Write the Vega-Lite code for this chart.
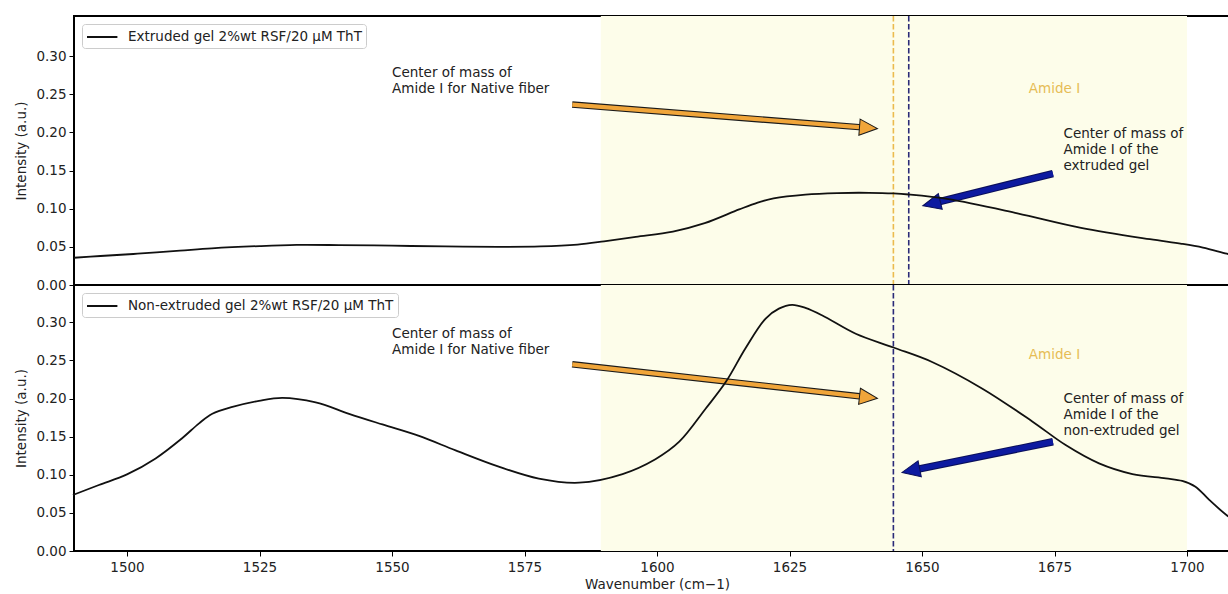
{
  "$schema": "https://vega.github.io/schema/vega-lite/v6.json",
  "padding": {"left": 13, "top": 14, "right": 0, "bottom": 0},
  "bounds": "flush",
  "spacing": 0,
  "datasets": {
    "amide": [{"w": 1589.4, "w2": 1700}],
    "centers": [
      {"panel": "top", "kind": "native", "w": 1644.6},
      {"panel": "top", "kind": "gel", "w": 1647.5},
      {"panel": "bottom", "kind": "gel", "w": 1644.6}
    ],
    "arrows": [
      {"panel": "top", "kind": "native", "w": 1584.0, "v": 0.2364, "w2": 1639.9, "v2": 0.2059},
      {"panel": "bottom", "kind": "native", "w": 1584.0, "v": 0.2449, "w2": 1639.9, "v2": 0.2016},
      {"panel": "top", "kind": "gel", "w": 1674.7, "v": 0.146, "w2": 1651.8, "v2": 0.1067},
      {"panel": "bottom", "kind": "gel", "w": 1674.7, "v": 0.1434, "w2": 1647.9, "v2": 0.1055}
    ],
    "notes": [
      {"panel": "top", "kind": "native", "w": 1550, "v": 0.2726, "text": "Center of mass of\nAmide I for Native fiber"},
      {"panel": "bottom", "kind": "native", "w": 1550, "v": 0.2795, "text": "Center of mass of\nAmide I for Native fiber"},
      {"panel": "top", "kind": "gel", "w": 1676.7, "v": 0.1928, "text": "Center of mass of\nAmide I of the\nextruded gel"},
      {"panel": "bottom", "kind": "gel", "w": 1676.7, "v": 0.1937, "text": "Center of mass of\nAmide I of the\nnon-extruded gel"},
      {"panel": "top", "kind": "region", "w": 1675, "v": 0.257, "text": "Amide I"},
      {"panel": "bottom", "kind": "region", "w": 1675, "v": 0.257, "text": "Amide I"}
    ],
    "spectra": [
      {"panel": "top", "w": 1490, "v": 0.0357},
      {"panel": "top", "w": 1495, "v": 0.038},
      {"panel": "top", "w": 1502, "v": 0.041},
      {"panel": "top", "w": 1510, "v": 0.045},
      {"panel": "top", "w": 1516, "v": 0.048},
      {"panel": "top", "w": 1525, "v": 0.051},
      {"panel": "top", "w": 1532, "v": 0.0525},
      {"panel": "top", "w": 1540, "v": 0.0523},
      {"panel": "top", "w": 1550, "v": 0.0515},
      {"panel": "top", "w": 1560, "v": 0.0505},
      {"panel": "top", "w": 1570, "v": 0.050},
      {"panel": "top", "w": 1578, "v": 0.0505},
      {"panel": "top", "w": 1585, "v": 0.053},
      {"panel": "top", "w": 1590, "v": 0.0572},
      {"panel": "top", "w": 1596, "v": 0.063},
      {"panel": "top", "w": 1603, "v": 0.070},
      {"panel": "top", "w": 1609, "v": 0.081},
      {"panel": "top", "w": 1615.5, "v": 0.099},
      {"panel": "top", "w": 1619, "v": 0.108},
      {"panel": "top", "w": 1622, "v": 0.1135},
      {"panel": "top", "w": 1628, "v": 0.1185},
      {"panel": "top", "w": 1634, "v": 0.1205},
      {"panel": "top", "w": 1640, "v": 0.1208},
      {"panel": "top", "w": 1644.6, "v": 0.120},
      {"panel": "top", "w": 1647.5, "v": 0.1186},
      {"panel": "top", "w": 1655, "v": 0.1125},
      {"panel": "top", "w": 1668, "v": 0.094},
      {"panel": "top", "w": 1680, "v": 0.075},
      {"panel": "top", "w": 1693, "v": 0.060},
      {"panel": "top", "w": 1699, "v": 0.054},
      {"panel": "top", "w": 1703, "v": 0.049},
      {"panel": "top", "w": 1707.5, "v": 0.041},
      {"panel": "top", "w": 1710, "v": 0.037},
      {"panel": "bottom", "w": 1489.8, "v": 0.0735},
      {"panel": "bottom", "w": 1494.7, "v": 0.0866},
      {"panel": "bottom", "w": 1500, "v": 0.1005},
      {"panel": "bottom", "w": 1505.4, "v": 0.1215},
      {"panel": "bottom", "w": 1510.4, "v": 0.148},
      {"panel": "bottom", "w": 1513.6, "v": 0.1675},
      {"panel": "bottom", "w": 1516.1, "v": 0.180},
      {"panel": "bottom", "w": 1519.9, "v": 0.189},
      {"panel": "bottom", "w": 1524.9, "v": 0.197},
      {"panel": "bottom", "w": 1529.3, "v": 0.201},
      {"panel": "bottom", "w": 1535.6, "v": 0.195},
      {"panel": "bottom", "w": 1541.9, "v": 0.180},
      {"panel": "bottom", "w": 1548.2, "v": 0.166},
      {"panel": "bottom", "w": 1555.1, "v": 0.151},
      {"panel": "bottom", "w": 1562, "v": 0.132},
      {"panel": "bottom", "w": 1570, "v": 0.111},
      {"panel": "bottom", "w": 1577.7, "v": 0.095},
      {"panel": "bottom", "w": 1585.3, "v": 0.0896},
      {"panel": "bottom", "w": 1593.5, "v": 0.101},
      {"panel": "bottom", "w": 1599.7, "v": 0.1205},
      {"panel": "bottom", "w": 1604.2, "v": 0.1434},
      {"panel": "bottom", "w": 1609.2, "v": 0.187},
      {"panel": "bottom", "w": 1613, "v": 0.222},
      {"panel": "bottom", "w": 1616.7, "v": 0.266},
      {"panel": "bottom", "w": 1620.5, "v": 0.305},
      {"panel": "bottom", "w": 1623, "v": 0.318},
      {"panel": "bottom", "w": 1625.5, "v": 0.323},
      {"panel": "bottom", "w": 1628, "v": 0.319},
      {"panel": "bottom", "w": 1631.2, "v": 0.309},
      {"panel": "bottom", "w": 1637.5, "v": 0.285},
      {"panel": "bottom", "w": 1644.6, "v": 0.267},
      {"panel": "bottom", "w": 1651.9, "v": 0.248},
      {"panel": "bottom", "w": 1661.4, "v": 0.213},
      {"panel": "bottom", "w": 1670.8, "v": 0.170},
      {"panel": "bottom", "w": 1677.1, "v": 0.139},
      {"panel": "bottom", "w": 1683.4, "v": 0.115},
      {"panel": "bottom", "w": 1689.7, "v": 0.101},
      {"panel": "bottom", "w": 1696, "v": 0.0953},
      {"panel": "bottom", "w": 1699.1, "v": 0.0919},
      {"panel": "bottom", "w": 1701.6, "v": 0.0844},
      {"panel": "bottom", "w": 1704.2, "v": 0.067},
      {"panel": "bottom", "w": 1707.5, "v": 0.047},
      {"panel": "bottom", "w": 1710, "v": 0.036}
    ]
  },
  "vconcat": [
    {
      "width": 1166,
      "height": 269,
      "layer": [
        {"data": {"name": "amide"}, "mark": {"type": "rect", "color": "#fdfdea"},
         "encoding": {"x": {"field": "w", "type": "quantitative", "scale": {"domain": [1490, 1710], "nice": false, "zero": false}, "axis": null}, "x2": {"field": "w2"}}},
        {"data": {"name": "centers"}, "transform": [{"filter": "datum.panel === 'top' && datum.kind === 'native'"}],
         "mark": {"type": "rule", "color": "#ebbb4e", "strokeWidth": 1.6, "strokeDash": [5.5, 2.5]},
         "encoding": {"x": {"field": "w", "type": "quantitative", "scale": {"domain": [1490, 1710], "nice": false, "zero": false}, "axis": null}}},
        {"data": {"name": "centers"}, "transform": [{"filter": "datum.panel === 'top' && datum.kind === 'gel'"}],
         "mark": {"type": "rule", "color": "#2a2a78", "strokeWidth": 1.6, "strokeDash": [5.5, 2.5]},
         "encoding": {"x": {"field": "w", "type": "quantitative", "scale": {"domain": [1490, 1710], "nice": false, "zero": false}, "axis": null}}},
        {"data": {"name": "arrows"}, "transform": [{"filter": "datum.panel === 'top' && datum.kind === 'native'"}],
         "mark": {"type": "rule", "color": "#1a1a1a", "strokeWidth": 6.5},
         "encoding": {"x": {"field": "w", "type": "quantitative", "scale": {"domain": [1490, 1710], "nice": false, "zero": false}, "axis": null}, "x2": {"field": "w2"},
                      "y": {"field": "v", "type": "quantitative", "scale": {"domain": [0, 0.3525], "nice": false}, "title": "Intensity (a.u.)", "axis": {"values": [0, 0.05, 0.1, 0.15, 0.2, 0.25, 0.3], "format": ".2f"}}, "y2": {"field": "v2"}}},
        {"data": {"name": "arrows"}, "transform": [{"filter": "datum.panel === 'top' && datum.kind === 'native'"}],
         "mark": {"type": "rule", "color": "#f0a53a", "strokeWidth": 4.2},
         "encoding": {"x": {"field": "w", "type": "quantitative", "scale": {"domain": [1490, 1710], "nice": false, "zero": false}, "axis": null}, "x2": {"field": "w2"},
                      "y": {"field": "v", "type": "quantitative", "scale": {"domain": [0, 0.3525], "nice": false}, "title": "Intensity (a.u.)", "axis": {"values": [0, 0.05, 0.1, 0.15, 0.2, 0.25, 0.3], "format": ".2f"}}, "y2": {"field": "v2"}}},
        {"data": {"name": "arrows"}, "transform": [{"filter": "datum.panel === 'top' && datum.kind === 'native'"}],
         "mark": {"type": "point", "shape": "M-1,-0.9L1,0L-1,0.9Z", "filled": true, "color": "#f0a53a", "stroke": "#1a1a1a", "strokeWidth": 1, "size": 324, "angle": 4.5, "opacity": 1},
         "encoding": {"x": {"field": "w2", "type": "quantitative", "scale": {"domain": [1490, 1710], "nice": false, "zero": false}, "axis": null},
                      "y": {"field": "v2", "type": "quantitative", "scale": {"domain": [0, 0.3525], "nice": false}, "title": "Intensity (a.u.)", "axis": {"values": [0, 0.05, 0.1, 0.15, 0.2, 0.25, 0.3], "format": ".2f"}}}},
        {"data": {"name": "arrows"}, "transform": [{"filter": "datum.panel === 'top' && datum.kind === 'gel'"}],
         "mark": {"type": "rule", "color": "#0a0f5a", "strokeWidth": 7.5},
         "encoding": {"x": {"field": "w", "type": "quantitative", "scale": {"domain": [1490, 1710], "nice": false, "zero": false}, "axis": null}, "x2": {"field": "w2"},
                      "y": {"field": "v", "type": "quantitative", "scale": {"domain": [0, 0.3525], "nice": false}, "title": "Intensity (a.u.)", "axis": {"values": [0, 0.05, 0.1, 0.15, 0.2, 0.25, 0.3], "format": ".2f"}}, "y2": {"field": "v2"}}},
        {"data": {"name": "arrows"}, "transform": [{"filter": "datum.panel === 'top' && datum.kind === 'gel'"}],
         "mark": {"type": "rule", "color": "#0d1aa0", "strokeWidth": 5.5},
         "encoding": {"x": {"field": "w", "type": "quantitative", "scale": {"domain": [1490, 1710], "nice": false, "zero": false}, "axis": null}, "x2": {"field": "w2"},
                      "y": {"field": "v", "type": "quantitative", "scale": {"domain": [0, 0.3525], "nice": false}, "title": "Intensity (a.u.)", "axis": {"values": [0, 0.05, 0.1, 0.15, 0.2, 0.25, 0.3], "format": ".2f"}}, "y2": {"field": "v2"}}},
        {"data": {"name": "arrows"}, "transform": [{"filter": "datum.panel === 'top' && datum.kind === 'gel'"}],
         "mark": {"type": "point", "shape": "M-1,-0.9L1,0L-1,0.9Z", "filled": true, "color": "#0d1aa0", "stroke": "#0a0f5a", "strokeWidth": 1, "size": 324, "angle": 166, "opacity": 1},
         "encoding": {"x": {"field": "w2", "type": "quantitative", "scale": {"domain": [1490, 1710], "nice": false, "zero": false}, "axis": null},
                      "y": {"field": "v2", "type": "quantitative", "scale": {"domain": [0, 0.3525], "nice": false}, "title": "Intensity (a.u.)", "axis": {"values": [0, 0.05, 0.1, 0.15, 0.2, 0.25, 0.3], "format": ".2f"}}}},
        {"data": {"name": "spectra"}, "transform": [{"filter": "datum.panel === 'top'"}],
         "mark": {"type": "line", "strokeWidth": 1.8, "interpolate": "catmull-rom"},
         "encoding": {"x": {"field": "w", "type": "quantitative", "scale": {"domain": [1490, 1710], "nice": false, "zero": false}, "axis": null},
                      "y": {"field": "v", "type": "quantitative", "scale": {"domain": [0, 0.3525], "nice": false}, "title": "Intensity (a.u.)", "axis": {"values": [0, 0.05, 0.1, 0.15, 0.2, 0.25, 0.3], "format": ".2f"}},
                      "color": {"datum": "Extruded gel 2%wt RSF/20 µM ThT", "type": "nominal", "scale": {"range": ["#111111"]}, "legend": {"title": null}}}},
        {"data": {"name": "notes"}, "transform": [{"filter": "datum.panel === 'top' && datum.kind !== 'region'"}],
         "mark": {"type": "text", "align": "left", "baseline": "alphabetic", "fontSize": 13.5, "lineHeight": 16, "lineBreak": "\n", "color": "#222222"},
         "encoding": {"x": {"field": "w", "type": "quantitative", "scale": {"domain": [1490, 1710], "nice": false, "zero": false}, "axis": null},
                      "y": {"field": "v", "type": "quantitative", "scale": {"domain": [0, 0.3525], "nice": false}, "title": "Intensity (a.u.)", "axis": {"values": [0, 0.05, 0.1, 0.15, 0.2, 0.25, 0.3], "format": ".2f"}},
                      "text": {"field": "text"}}},
        {"data": {"name": "notes"}, "transform": [{"filter": "datum.panel === 'top' && datum.kind === 'region'"}],
         "mark": {"type": "text", "align": "center", "baseline": "middle", "fontSize": 13.5, "color": "#e6bc55"},
         "encoding": {"x": {"field": "w", "type": "quantitative", "scale": {"domain": [1490, 1710], "nice": false, "zero": false}, "axis": null},
                      "y": {"field": "v", "type": "quantitative", "scale": {"domain": [0, 0.3525], "nice": false}, "title": "Intensity (a.u.)", "axis": {"values": [0, 0.05, 0.1, 0.15, 0.2, 0.25, 0.3], "format": ".2f"}},
                      "text": {"field": "text"}}}
      ]
    },
    {
      "width": 1166,
      "height": 266,
      "layer": [
        {"data": {"name": "amide"}, "mark": {"type": "rect", "color": "#fdfdea"},
         "encoding": {"x": {"field": "w", "type": "quantitative", "scale": {"domain": [1490, 1710], "nice": false, "zero": false}, "title": "Wavenumber (cm−1)", "axis": {"values": [1500, 1525, 1550, 1575, 1600, 1625, 1650, 1675, 1700], "format": "d"}}, "x2": {"field": "w2"}}},
        {"data": {"name": "centers"}, "transform": [{"filter": "datum.panel === 'bottom' && datum.kind === 'gel'"}],
         "mark": {"type": "rule", "color": "#2a2a78", "strokeWidth": 1.6, "strokeDash": [5.5, 2.5]},
         "encoding": {"x": {"field": "w", "type": "quantitative", "scale": {"domain": [1490, 1710], "nice": false, "zero": false}, "title": "Wavenumber (cm−1)", "axis": {"values": [1500, 1525, 1550, 1575, 1600, 1625, 1650, 1675, 1700], "format": "d"}}}},
        {"data": {"name": "arrows"}, "transform": [{"filter": "datum.panel === 'bottom' && datum.kind === 'native'"}],
         "mark": {"type": "rule", "color": "#1a1a1a", "strokeWidth": 6.5},
         "encoding": {"x": {"field": "w", "type": "quantitative", "scale": {"domain": [1490, 1710], "nice": false, "zero": false}, "title": "Wavenumber (cm−1)", "axis": {"values": [1500, 1525, 1550, 1575, 1600, 1625, 1650, 1675, 1700], "format": "d"}}, "x2": {"field": "w2"},
                      "y": {"field": "v", "type": "quantitative", "scale": {"domain": [0, 0.349], "nice": false}, "title": "Intensity (a.u.)", "axis": {"values": [0, 0.05, 0.1, 0.15, 0.2, 0.25, 0.3], "format": ".2f"}}, "y2": {"field": "v2"}}},
        {"data": {"name": "arrows"}, "transform": [{"filter": "datum.panel === 'bottom' && datum.kind === 'native'"}],
         "mark": {"type": "rule", "color": "#f0a53a", "strokeWidth": 4.2},
         "encoding": {"x": {"field": "w", "type": "quantitative", "scale": {"domain": [1490, 1710], "nice": false, "zero": false}, "title": "Wavenumber (cm−1)", "axis": {"values": [1500, 1525, 1550, 1575, 1600, 1625, 1650, 1675, 1700], "format": "d"}}, "x2": {"field": "w2"},
                      "y": {"field": "v", "type": "quantitative", "scale": {"domain": [0, 0.349], "nice": false}, "title": "Intensity (a.u.)", "axis": {"values": [0, 0.05, 0.1, 0.15, 0.2, 0.25, 0.3], "format": ".2f"}}, "y2": {"field": "v2"}}},
        {"data": {"name": "arrows"}, "transform": [{"filter": "datum.panel === 'bottom' && datum.kind === 'native'"}],
         "mark": {"type": "point", "shape": "M-1,-0.9L1,0L-1,0.9Z", "filled": true, "color": "#f0a53a", "stroke": "#1a1a1a", "strokeWidth": 1, "size": 324, "angle": 6.4, "opacity": 1},
         "encoding": {"x": {"field": "w2", "type": "quantitative", "scale": {"domain": [1490, 1710], "nice": false, "zero": false}, "title": "Wavenumber (cm−1)", "axis": {"values": [1500, 1525, 1550, 1575, 1600, 1625, 1650, 1675, 1700], "format": "d"}},
                      "y": {"field": "v2", "type": "quantitative", "scale": {"domain": [0, 0.349], "nice": false}, "title": "Intensity (a.u.)", "axis": {"values": [0, 0.05, 0.1, 0.15, 0.2, 0.25, 0.3], "format": ".2f"}}}},
        {"data": {"name": "arrows"}, "transform": [{"filter": "datum.panel === 'bottom' && datum.kind === 'gel'"}],
         "mark": {"type": "rule", "color": "#0a0f5a", "strokeWidth": 7.5},
         "encoding": {"x": {"field": "w", "type": "quantitative", "scale": {"domain": [1490, 1710], "nice": false, "zero": false}, "title": "Wavenumber (cm−1)", "axis": {"values": [1500, 1525, 1550, 1575, 1600, 1625, 1650, 1675, 1700], "format": "d"}}, "x2": {"field": "w2"},
                      "y": {"field": "v", "type": "quantitative", "scale": {"domain": [0, 0.349], "nice": false}, "title": "Intensity (a.u.)", "axis": {"values": [0, 0.05, 0.1, 0.15, 0.2, 0.25, 0.3], "format": ".2f"}}, "y2": {"field": "v2"}}},
        {"data": {"name": "arrows"}, "transform": [{"filter": "datum.panel === 'bottom' && datum.kind === 'gel'"}],
         "mark": {"type": "rule", "color": "#0d1aa0", "strokeWidth": 5.5},
         "encoding": {"x": {"field": "w", "type": "quantitative", "scale": {"domain": [1490, 1710], "nice": false, "zero": false}, "title": "Wavenumber (cm−1)", "axis": {"values": [1500, 1525, 1550, 1575, 1600, 1625, 1650, 1675, 1700], "format": "d"}}, "x2": {"field": "w2"},
                      "y": {"field": "v", "type": "quantitative", "scale": {"domain": [0, 0.349], "nice": false}, "title": "Intensity (a.u.)", "axis": {"values": [0, 0.05, 0.1, 0.15, 0.2, 0.25, 0.3], "format": ".2f"}}, "y2": {"field": "v2"}}},
        {"data": {"name": "arrows"}, "transform": [{"filter": "datum.panel === 'bottom' && datum.kind === 'gel'"}],
         "mark": {"type": "point", "shape": "M-1,-0.9L1,0L-1,0.9Z", "filled": true, "color": "#0d1aa0", "stroke": "#0a0f5a", "strokeWidth": 1, "size": 324, "angle": 168.5, "opacity": 1},
         "encoding": {"x": {"field": "w2", "type": "quantitative", "scale": {"domain": [1490, 1710], "nice": false, "zero": false}, "title": "Wavenumber (cm−1)", "axis": {"values": [1500, 1525, 1550, 1575, 1600, 1625, 1650, 1675, 1700], "format": "d"}},
                      "y": {"field": "v2", "type": "quantitative", "scale": {"domain": [0, 0.349], "nice": false}, "title": "Intensity (a.u.)", "axis": {"values": [0, 0.05, 0.1, 0.15, 0.2, 0.25, 0.3], "format": ".2f"}}}},
        {"data": {"name": "spectra"}, "transform": [{"filter": "datum.panel === 'bottom'"}],
         "mark": {"type": "line", "strokeWidth": 1.8, "interpolate": "catmull-rom"},
         "encoding": {"x": {"field": "w", "type": "quantitative", "scale": {"domain": [1490, 1710], "nice": false, "zero": false}, "title": "Wavenumber (cm−1)", "axis": {"values": [1500, 1525, 1550, 1575, 1600, 1625, 1650, 1675, 1700], "format": "d"}},
                      "y": {"field": "v", "type": "quantitative", "scale": {"domain": [0, 0.349], "nice": false}, "title": "Intensity (a.u.)", "axis": {"values": [0, 0.05, 0.1, 0.15, 0.2, 0.25, 0.3], "format": ".2f"}},
                      "color": {"datum": "Non-extruded gel 2%wt RSF/20 µM ThT", "type": "nominal", "scale": {"range": ["#111111"]}, "legend": {"title": null}}}},
        {"data": {"name": "notes"}, "transform": [{"filter": "datum.panel === 'bottom' && datum.kind !== 'region'"}],
         "mark": {"type": "text", "align": "left", "baseline": "alphabetic", "fontSize": 13.5, "lineHeight": 16, "lineBreak": "\n", "color": "#222222"},
         "encoding": {"x": {"field": "w", "type": "quantitative", "scale": {"domain": [1490, 1710], "nice": false, "zero": false}, "title": "Wavenumber (cm−1)", "axis": {"values": [1500, 1525, 1550, 1575, 1600, 1625, 1650, 1675, 1700], "format": "d"}},
                      "y": {"field": "v", "type": "quantitative", "scale": {"domain": [0, 0.349], "nice": false}, "title": "Intensity (a.u.)", "axis": {"values": [0, 0.05, 0.1, 0.15, 0.2, 0.25, 0.3], "format": ".2f"}},
                      "text": {"field": "text"}}},
        {"data": {"name": "notes"}, "transform": [{"filter": "datum.panel === 'bottom' && datum.kind === 'region'"}],
         "mark": {"type": "text", "align": "center", "baseline": "middle", "fontSize": 13.5, "color": "#e6bc55"},
         "encoding": {"x": {"field": "w", "type": "quantitative", "scale": {"domain": [1490, 1710], "nice": false, "zero": false}, "title": "Wavenumber (cm−1)", "axis": {"values": [1500, 1525, 1550, 1575, 1600, 1625, 1650, 1675, 1700], "format": "d"}},
                      "y": {"field": "v", "type": "quantitative", "scale": {"domain": [0, 0.349], "nice": false}, "title": "Intensity (a.u.)", "axis": {"values": [0, 0.05, 0.1, 0.15, 0.2, 0.25, 0.3], "format": ".2f"}},
                      "text": {"field": "text"}}}
      ]
    }
  ],
  "resolve": {"scale": {"y": "independent", "color": "independent"}, "legend": {"color": "independent"}},
  "config": {
    "font": "DejaVu Sans",
    "background": "white",
    "view": {"stroke": "#000000", "strokeWidth": 2},
    "axis": {"grid": false, "domain": false, "tickColor": "#000000", "tickSize": 5, "tickWidth": 1,
             "labelFont": "DejaVu Sans", "labelFontSize": 13.5, "labelColor": "#222222",
             "titleFont": "DejaVu Sans", "titleFontSize": 13.5, "titleFontWeight": "normal", "titleColor": "#222222"},
    "axisY": {"labelPadding": 3, "titlePadding": 7},
    "axisX": {"labelPadding": 4, "titlePadding": 4},
    "legend": {"orient": "top-left", "offset": 8, "padding": 4, "strokeColor": "#cccccc", "fillColor": "#ffffff",
               "cornerRadius": 3, "labelFont": "DejaVu Sans", "labelFontSize": 13.5, "labelColor": "#222222", "labelLimit": 600,
               "symbolType": "M-1,0L2.8,0", "symbolSize": 256, "symbolStrokeWidth": 2, "labelOffset": 24}
  }
}
